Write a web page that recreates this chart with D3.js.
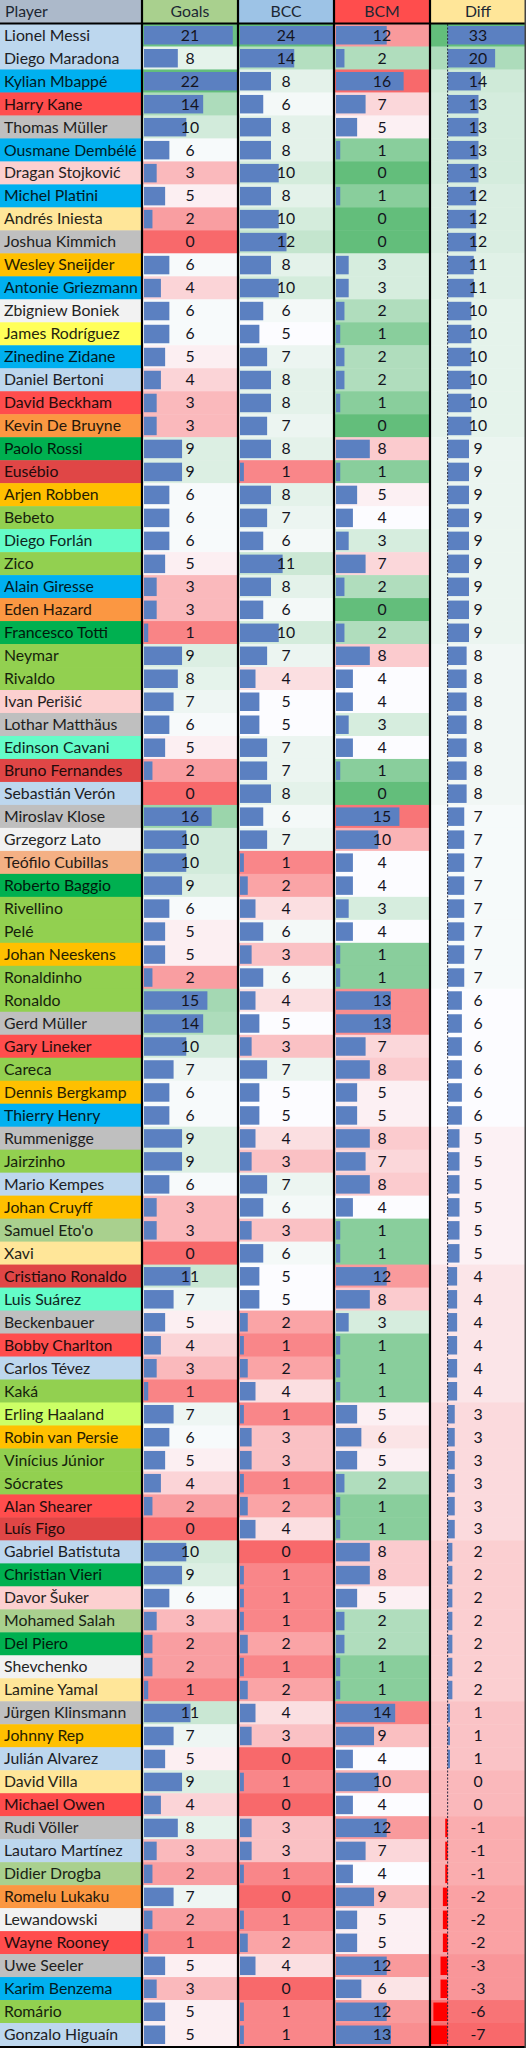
<!DOCTYPE html>
<html><head><meta charset="utf-8">
<script src="https://cdn.jsdelivr.net/npm/d3@7/dist/d3.min.js"></script>
<style>
body{margin:0;background:#fff;}
svg text{font-family:Lato,"Open Sans",sans-serif;}
</style>
</head><body>
<svg id="chart"></svg>
<script>
const headers = ["Player","Goals","BCC","BCM","Diff"];
const players = ["Lionel Messi","Diego Maradona","Kylian Mbappé","Harry Kane","Thomas Müller","Ousmane Dembélé","Dragan Stojković","Michel Platini","Andrés Iniesta","Joshua Kimmich","Wesley Sneijder","Antonie Griezmann","Zbigniew Boniek","James Rodríguez","Zinedine Zidane","Daniel Bertoni","David Beckham","Kevin De Bruyne","Paolo Rossi","Eusébio","Arjen Robben","Bebeto","Diego Forlán","Zico","Alain Giresse","Eden Hazard","Francesco Totti","Neymar","Rivaldo","Ivan Perišić","Lothar Matthäus","Edinson Cavani","Bruno Fernandes","Sebastián Verón","Miroslav Klose","Grzegorz Lato","Teófilo Cubillas","Roberto Baggio","Rivellino","Pelé","Johan Neeskens","Ronaldinho","Ronaldo","Gerd Müller","Gary Lineker","Careca","Dennis Bergkamp","Thierry Henry","Rummenigge","Jairzinho","Mario Kempes","Johan Cruyff","Samuel Eto'o","Xavi","Cristiano Ronaldo","Luis Suárez","Beckenbauer","Bobby Charlton","Carlos Tévez","Kaká","Erling Haaland","Robin van Persie","Vinícius Júnior","Sócrates","Alan Shearer","Luís Figo","Gabriel Batistuta","Christian Vieri","Davor Šuker","Mohamed Salah","Del Piero","Shevchenko","Lamine Yamal","Jürgen Klinsmann","Johnny Rep","Julián Alvarez","David Villa","Michael Owen","Rudi Völler","Lautaro Martínez","Didier Drogba","Romelu Lukaku","Lewandowski","Wayne Rooney","Uwe Seeler","Karim Benzema","Romário","Gonzalo Higuaín"];
const nations = ["ARG","ARG","FRA","ENG","GER","FRA","SRB","FRA","ESP","GER","NED","FRA","POL","COL","FRA","ARG","ENG","BEL","ITA","POR","NED","BRA","URU","BRA","FRA","BEL","ITA","BRA","BRA","CRO","GER","URU","POR","ARG","GER","POL","PER","ITA","BRA","BRA","NED","BRA","BRA","GER","ENG","BRA","NED","FRA","GER","BRA","ARG","NED","CMR","ESP","POR","URU","GER","ENG","ARG","BRA","NOR","NED","BRA","BRA","ENG","POR","ARG","ITA","CRO","EGY","ITA","UKR","ESP","GER","NED","ARG","ESP","ENG","GER","ARG","CIV","BEL","POL","ENG","GER","FRA","BRA","ARG"];
const goals = [21,8,22,14,10,6,3,5,2,0,6,4,6,6,5,4,3,3,9,9,6,6,6,5,3,3,1,9,8,7,6,5,2,0,16,10,10,9,6,5,5,2,15,14,10,7,6,6,9,9,6,3,3,0,11,7,5,4,3,1,7,6,5,4,2,0,10,9,6,3,2,2,1,11,7,5,9,4,8,3,2,7,2,1,5,3,5,5];
const bcc = [24,14,8,6,8,8,10,8,10,12,8,10,6,5,7,8,8,7,8,1,8,7,6,11,8,6,10,7,4,5,5,7,7,8,6,7,1,2,4,6,3,6,4,5,3,7,5,5,4,3,7,6,3,6,5,5,2,1,2,4,1,3,3,1,2,4,0,1,1,1,2,1,2,4,3,0,1,0,3,3,1,0,1,2,4,0,1,1];
const bcm = [12,2,16,7,5,1,0,1,0,0,3,3,2,1,2,2,1,0,8,1,5,4,3,7,2,0,2,8,4,4,3,4,1,0,15,10,4,4,3,4,1,1,13,13,7,8,5,5,8,7,8,4,1,1,12,8,3,1,1,1,5,6,5,2,1,1,8,8,5,2,2,1,1,14,9,4,10,4,12,7,4,9,5,5,12,6,12,13];
const diff = [33,20,14,13,13,13,13,12,12,12,11,11,10,10,10,10,10,10,9,9,9,9,9,9,9,9,9,8,8,8,8,8,8,8,7,7,7,7,7,7,7,7,6,6,6,6,6,6,5,5,5,5,5,5,4,4,4,4,4,4,3,3,3,3,3,3,2,2,2,2,2,2,2,1,1,1,0,0,-1,-1,-1,-2,-2,-2,-3,-3,-6,-7];
const nationCodes = ["ARG","FRA","ENG","GER","SRB","CRO","ESP","NED","POL","COL","BEL","ITA","POR","BRA","URU","PER","CMR","EGY","CIV","NOR","UKR"];

const W = 526, H = 2048, headH = 23, bottom = 2046, FS = 15.8;
const colX = [0,142,238,334,430,526];

const nationColor = d3.scaleOrdinal().domain(nationCodes).range(["#bdd7ee","#00b0f0","#ff4d4d","#bfbfbf","#fcd0d0","#fcd0d0","#ffe699","#ffc000","#f2f2f2","#ffff5a","#fb9742","#00b050","#e04646","#92d050","#64fcc8","#f4b084","#a9d08e","#a9d08e","#a9d08e","#ccff66","#f2f2f2"]);
const headColor = d3.scaleOrdinal().domain(headers).range(["#acb9ca","#a9d08e","#9dc3e6","#ff4d4d","#ffe699"]);

const RED = "#f8696b", WHITE = "#fcfcff", GREEN = "#63be7b";
function colorScale(vals, reverse){
  const dom = [d3.min(vals), d3.median(vals), d3.max(vals)];
  return d3.scaleLinear().domain(dom).range(reverse ? [GREEN,WHITE,RED] : [RED,WHITE,GREEN]).interpolate(d3.interpolateRgb).clamp(true);
}

const svg = d3.select("#chart").attr("width",W).attr("height",H);
const y = d3.scaleBand().domain(d3.range(players.length)).range([headH+0.5, bottom]);
const rh = y.bandwidth();

// Header
const hg = svg.append("g");
headers.forEach((h,i)=>{
  hg.append("rect").attr("x",colX[i]).attr("y",0).attr("width",colX[i+1]-colX[i]).attr("height",headH).attr("fill",headColor(h));
  hg.append("text").attr("x", i===0 ? 5 : (colX[i]+colX[i+1])/2).attr("y",headH/2+5.5)
    .attr("text-anchor", i===0 ? "start":"middle").attr("font-size",FS).attr("fill","#1c2733").text(h);
});

// Player column
const pg = svg.append("g");
players.forEach((p,i)=>{
  const bg = nationColor(nations[i]);
  pg.append("rect").attr("x",0).attr("y",y(i)).attr("width",colX[1]).attr("height",rh+0.5).attr("fill",bg);
  pg.append("text").attr("x",4).attr("y",y(i)+rh/2+5.6).attr("font-size",FS)
    .attr("fill",d3.interpolateRgb(bg,"#000")(0.85)).text(p);
});

// numeric columns
const series = [goals,bcc,bcm];
const barMax = [22,24,22];
series.forEach((vals,k)=>{
  const ci = k+1;
  const cs = colorScale(vals, k===2);
  const x = d3.scaleLinear().domain([0,barMax[k]]).range([colX[ci]+2, colX[ci+1]-1]);
  const g = svg.append("g");
  g.selectAll("rect.bg").data(vals).join("rect").attr("class","bg")
    .attr("x",colX[ci]).attr("y",(d,i)=>y(i)).attr("width",colX[ci+1]-colX[ci]).attr("height",rh+0.5).attr("fill",d=>cs(d));
  g.selectAll("rect.bar").data(vals).join("rect").attr("class","bar")
    .attr("x",x(0)).attr("y",(d,i)=>y(i)+2.5).attr("width",d=>x(d)-x(0)).attr("height",rh-4.5).attr("fill","#5b80c1");
  g.selectAll("text").data(vals).join("text")
    .attr("x",(colX[ci]+colX[ci+1])/2).attr("y",(d,i)=>y(i)+rh/2+5.6).attr("text-anchor","middle")
    .attr("font-size",FS).attr("fill","#14141e").text(d=>d);
});

// Diff column
{
  const ci = 4;
  const cs = colorScale(diff,false);
  const x = d3.scaleLinear().domain([d3.min(diff), d3.max(diff)]).range([colX[ci]+1, colX[ci+1]]);
  const g = svg.append("g");
  g.selectAll("rect.bg").data(diff).join("rect").attr("class","bg")
    .attr("x",colX[ci]).attr("y",(d,i)=>y(i)).attr("width",colX[ci+1]-colX[ci]).attr("height",rh+0.5).attr("fill",d=>cs(d));
  g.selectAll("rect.bar").data(diff).join("rect").attr("class","bar")
    .attr("x",d=>Math.min(x(0),x(d))).attr("y",(d,i)=>y(i)+2.5).attr("width",d=>Math.abs(x(d)-x(0))).attr("height",rh-4.5)
    .attr("fill",d=>d<0?"#ff0000":"#5b80c1");
  g.append("line").attr("x1",x(0)).attr("x2",x(0)).attr("y1",headH+1).attr("y2",bottom)
    .attr("stroke","#2a2a40").attr("stroke-width",1).attr("stroke-dasharray","2,1.5");
  g.selectAll("text").data(diff).join("text")
    .attr("x",(colX[ci]+colX[ci+1])/2).attr("y",(d,i)=>y(i)+rh/2+5.6).attr("text-anchor","middle")
    .attr("font-size",FS).attr("fill","#14141e").text(d=>d);
}

// borders
const bgr = svg.append("g").attr("stroke","#000");
[1,2,3,4].forEach(i=>bgr.append("line").attr("x1",colX[i]).attr("x2",colX[i]).attr("y1",0).attr("y2",H).attr("stroke-width",2.2));
bgr.append("line").attr("x1",0).attr("x2",W).attr("y1",headH+0.5).attr("y2",headH+0.5).attr("stroke-width",2.2);
bgr.append("line").attr("x1",0).attr("x2",W).attr("y1",bottom+1).attr("y2",bottom+1).attr("stroke-width",2);
bgr.append("line").attr("x1",W-0.75).attr("x2",W-0.75).attr("y1",0).attr("y2",H).attr("stroke-width",1.5).attr("stroke","#444");
</script>
</body></html>
